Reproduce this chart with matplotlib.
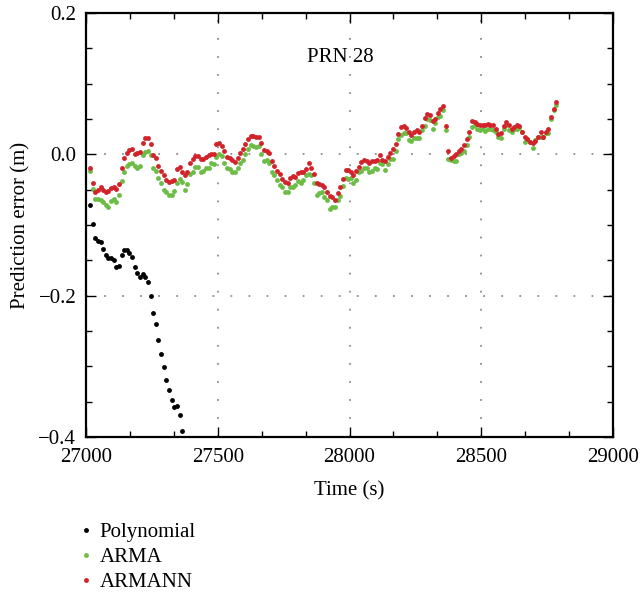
import matplotlib
matplotlib.use("Agg")
import matplotlib.pyplot as plt
from matplotlib.ticker import MultipleLocator, AutoMinorLocator
from matplotlib.lines import Line2D

plt.rcParams['font.family'] = ['Liberation Serif', 'DejaVu Serif']

# Sampling epochs (s)
TIME = [
    27015, 27025, 27035, 27045, 27055, 27065, 27075, 27085, 27095, 27105,
    27115, 27125, 27135, 27145, 27155, 27165, 27175, 27185, 27195, 27205,
    27215, 27225, 27235, 27245, 27255, 27265, 27275, 27285, 27295, 27305,
    27315, 27325, 27335, 27345, 27355, 27365, 27375, 27385, 27395, 27405,
    27415, 27425, 27435, 27445, 27455, 27465, 27475, 27485, 27495, 27505,
    27515, 27525, 27535, 27545, 27555, 27565, 27575, 27585, 27595, 27605,
    27615, 27625, 27635, 27645, 27655, 27665, 27675, 27685, 27695, 27705,
    27715, 27725, 27735, 27745, 27755, 27765, 27775, 27785, 27795, 27805,
    27815, 27825, 27835, 27845, 27855, 27865, 27875, 27885, 27895, 27905,
    27915, 27925, 27935, 27945, 27955, 27965, 27975, 27985, 27995, 28005,
    28015, 28025, 28035, 28045, 28055, 28065, 28075, 28085, 28095, 28105,
    28115, 28125, 28135, 28145, 28155, 28165, 28175, 28185, 28195, 28205,
    28215, 28225, 28235, 28245, 28255, 28265, 28275, 28285, 28295, 28305,
    28315, 28325, 28335, 28345, 28355, 28365, 28375, 28385, 28395, 28405,
    28415, 28425, 28435, 28445, 28455, 28465, 28475, 28485, 28495, 28505,
    28515, 28525, 28535, 28545, 28555, 28565, 28575, 28585, 28595, 28605,
    28615, 28625, 28635, 28645, 28655, 28665, 28675, 28685, 28695, 28705,
    28715, 28725, 28735, 28745, 28755, 28765, 28775, 28785,
]

POLYNOMIAL = [
    -0.072, -0.098, -0.118, -0.123, -0.124, -0.134, -0.143, -0.147, -0.147, -0.150,
    -0.159, -0.158, -0.142, -0.135, -0.136, -0.140, -0.145, -0.160, -0.168, -0.174,
    -0.170, -0.173, -0.181, -0.200, -0.225, -0.240, -0.263, -0.282, -0.301, -0.320,
    -0.334, -0.348, -0.357, -0.356, -0.369, -0.392,
]

ARMA = [
    -0.023, -0.049, -0.063, -0.063, -0.064, -0.067, -0.072, -0.074, -0.066, -0.063,
    -0.067, -0.057, -0.038, -0.025, -0.016, -0.014, -0.012, -0.016, -0.019, -0.017,
    -0.001, 0.003, 0.005, -0.001, -0.020, -0.024, -0.033, -0.041, -0.050, -0.054,
    -0.057,
    -0.058, -0.052, -0.041, -0.035, -0.039, -0.050, -0.042, -0.028, -0.025, -0.018,
    -0.018, -0.025, -0.023, -0.020, -0.020, -0.013, -0.014, -0.004, 0.001, -0.003,
    -0.013, -0.019, -0.021, -0.025, -0.025, -0.020, -0.012, -0.008, 0.000, 0.007,
    0.013,
    0.011, 0.010, 0.011, 0.001, -0.010, -0.008, -0.013, -0.025, -0.029, -0.037,
    -0.043, -0.047, -0.054, -0.054, -0.046, -0.046, -0.044, -0.038, -0.040, -0.037,
    -0.030, -0.028, -0.030, -0.040, -0.057, -0.055, -0.053, -0.061, -0.065, -0.077,
    -0.075,
    -0.075, -0.065, -0.059, -0.045, -0.033, -0.035, -0.034, -0.041, -0.037, -0.025,
    -0.023, -0.020, -0.020, -0.025, -0.023, -0.019, -0.021, -0.012, -0.014, -0.022,
    -0.014, -0.007, -0.007, 0.004, 0.021, 0.027, 0.030, 0.030, 0.020, 0.019,
    0.023, 0.023, 0.023, 0.034, 0.040, 0.050, 0.048, 0.036, 0.044, 0.053,
    0.054, 0.062, 0.034, -0.006, -0.008, -0.009, -0.009, 0.001, 0.002, 0.005,
    0.013, 0.024, 0.039, 0.042, 0.036, 0.034, 0.036, 0.033, 0.036, 0.036,
    0.035, 0.031, 0.025, 0.023, 0.036, 0.041, 0.034, 0.032, 0.036, 0.036,
    0.037, 0.031, 0.018, 0.021, 0.017, 0.009, 0.020, 0.024, 0.024, 0.024,
    0.030, 0.030, 0.050, 0.063, 0.069,
]

ARMANN = [
    -0.019, -0.040, -0.053, -0.051, -0.047, -0.051, -0.054, -0.052, -0.048, -0.046,
    -0.049, -0.042, -0.020, -0.005, 0.002, 0.006, 0.007, 0.000, 0.002, 0.003,
    0.016, 0.023, 0.023, 0.014, -0.001, -0.005, -0.016, -0.024, -0.030, -0.037,
    -0.039,
    -0.038, -0.036, -0.021, -0.018, -0.025, -0.029, -0.025, -0.012, -0.006, -0.002,
    -0.003, -0.007, -0.007, -0.004, -0.001, 0.001, 0.000, 0.014, 0.016, 0.011,
    0.004, -0.004, -0.005, -0.008, -0.011, -0.005, 0.002, 0.007, 0.015, 0.022,
    0.026,
    0.026, 0.025, 0.024, 0.016, 0.006, 0.005, 0.002, -0.009, -0.017, -0.023,
    -0.028, -0.035, -0.039, -0.040, -0.034, -0.031, -0.032, -0.026, -0.025, -0.025,
    -0.021, -0.013, -0.019, -0.028, -0.041, -0.042, -0.044, -0.047, -0.054, -0.059,
    -0.061,
    -0.064, -0.055, -0.046, -0.035, -0.022, -0.022, -0.025, -0.029, -0.023, -0.018,
    -0.011, -0.008, -0.010, -0.012, -0.010, -0.010, -0.008, -0.001, -0.008, -0.009,
    -0.004, 0.002, 0.007, 0.014, 0.029, 0.038, 0.040, 0.037, 0.032, 0.027,
    0.032, 0.035, 0.031, 0.040, 0.052, 0.057, 0.056, 0.047, 0.050, 0.059,
    0.064, 0.068, 0.040, 0.005, -0.005, -0.002, 0.001, 0.004, 0.008, 0.013,
    0.021, 0.032, 0.047, 0.046, 0.043, 0.041, 0.041, 0.042, 0.043, 0.041,
    0.041, 0.036, 0.029, 0.030, 0.040, 0.045, 0.042, 0.036, 0.039, 0.042,
    0.040, 0.032, 0.024, 0.021, 0.018, 0.016, 0.019, 0.025, 0.031, 0.025,
    0.032, 0.036, 0.053, 0.064, 0.074,
]

BLACK = '#000000'
GREEN = '#6cbd45'
RED = '#d2232a'

fig = plt.figure(figsize=(6.4, 5.97), dpi=100)
ax = fig.add_axes([0.1344, 0.2680, 0.8234, 0.7104])

ms = 3.5
ax.plot(TIME[:len(POLYNOMIAL)], POLYNOMIAL, 'o', ms=ms, color=BLACK, mec='none')
ax.plot(TIME[:len(ARMA)], ARMA, 'o', ms=ms, color=GREEN, mec='none')
ax.plot(TIME[:len(ARMANN)], ARMANN, 'o', ms=ms, color=RED, mec='none')

ax.set_xlim(27000, 29000)
ax.set_ylim(-0.4, 0.2)
ax.xaxis.set_major_locator(MultipleLocator(500))
ax.xaxis.set_minor_locator(AutoMinorLocator(3))
ax.yaxis.set_major_locator(MultipleLocator(0.2))
ax.yaxis.set_minor_locator(AutoMinorLocator(4))
ax.tick_params(which='both', direction='in', top=True, right=True,
               labelsize=15, width=1.0)
ax.tick_params(which='major', length=7)
ax.tick_params(which='minor', length=4)
ax.tick_params(axis='x', which='both', pad=8)
ax.tick_params(axis='y', which='both', pad=7)
for sp in ax.spines.values():
    sp.set_linewidth(1.6)

ax.grid(which='major', color='#8c8c8c', linestyle=(0, (1, 9)), linewidth=1.3)
ax.set_axisbelow(True)

ax.text(0.482, 0.896, 'PRN 28', transform=ax.transAxes, ha='center',
        va='center', fontsize=15)
ax.set_xlabel('Time (s)', fontsize=15, labelpad=10)
ax.set_ylabel('Prediction error (m)', fontsize=15, labelpad=6)

handles = [
    Line2D([], [], marker='o', ls='none', ms=ms, color=BLACK, mec='none'),
    Line2D([], [], marker='o', ls='none', ms=ms, color=GREEN, mec='none'),
    Line2D([], [], marker='o', ls='none', ms=ms, color=RED, mec='none'),
]
fig.legend(handles, ['Polynomial', 'ARMA', 'ARMANN'], loc='upper left',
           bbox_to_anchor=(0.125, 0.125), frameon=False, fontsize=15,
           handlelength=0.6, handletextpad=0.35, labelspacing=0.26,
           borderpad=0, borderaxespad=0)

fig.savefig('out.png', dpi=100)
